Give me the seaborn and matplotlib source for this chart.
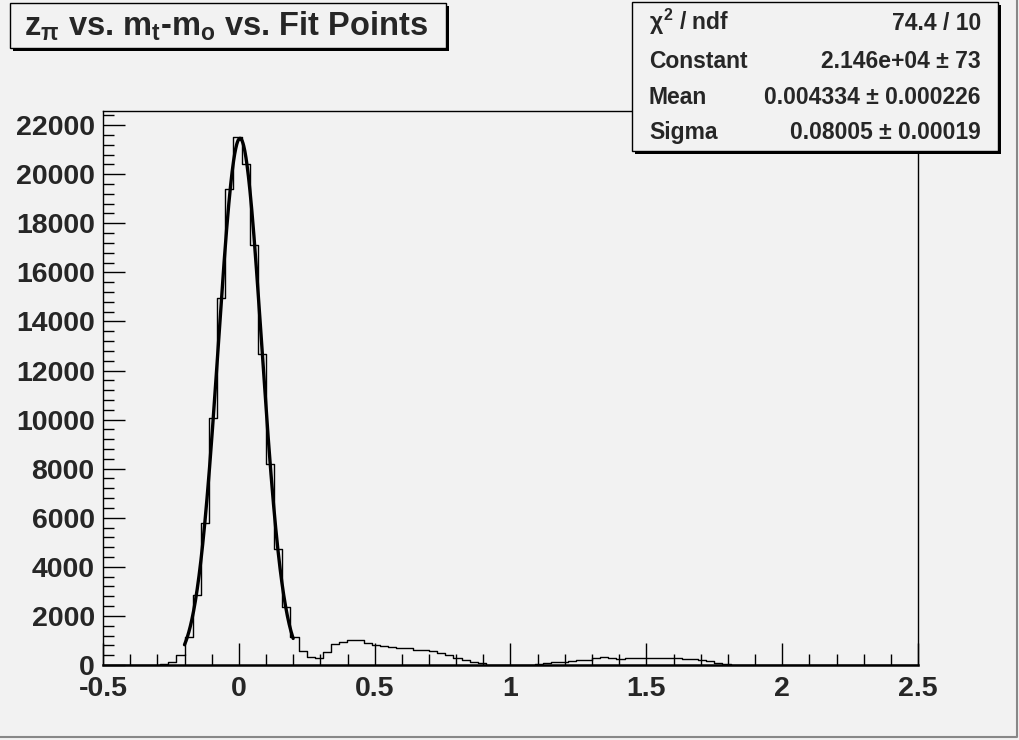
import numpy as np
import pandas as pd
import matplotlib
matplotlib.use("Agg")
import matplotlib.pyplot as plt
from matplotlib.patches import Rectangle
from matplotlib.ticker import MultipleLocator
import seaborn as sns

# histogram: 100 bins between -0.5 and 2.5
x_lo, x_hi, n_bins = -0.5, 2.5, 100
counts = ([0] * 6
          + [10, 30, 110, 400, 1130, 2840, 5770, 10050, 14940, 19380, 21500,
             20410, 17110, 12680, 8180, 4730, 2375, 1150, 570]
          + [315, 300, 520, 845, 940, 1010, 1000, 910, 830, 770, 750, 705,
             690, 625, 600, 585, 500, 410, 270, 190, 120, 70, 20, 5]
          + [0] * 3
          + [10, 40, 70, 120, 125, 175, 200, 205, 270, 310, 285, 260, 270,
             285, 290, 285, 290, 280, 270, 260, 230, 190, 150, 95, 40, 10]
          + [0] * 22)

# gaussian fit shown in the stats box
fit_const, fit_mean, fit_sigma = 21460, 0.004334, 0.08005
fit_lo, fit_hi = -0.2, 0.2

stat_names = [r"$\chi^{2}$ / ndf", "Constant", "Mean", "Sigma"]
stat_values = ["74.4 / 10", "2.146e+04 ± 73", "0.004334 ± 0.000226", "0.08005 ± 0.00019"]

title = r"z$_{\pi}$ vs. m$_{t}$-m$_{o}$ vs. Fit Points"

bg = "#f2f2f2"
sns.set_theme(style="ticks")
plt.rcParams["font.family"] = ["Liberation Sans", "DejaVu Sans"]
plt.rcParams["font.weight"] = "bold"
plt.rcParams["mathtext.fontset"] = "custom"
plt.rcParams["mathtext.rm"] = "Liberation Sans:bold"
plt.rcParams["mathtext.it"] = "Liberation Sans:bold"
plt.rcParams["mathtext.bf"] = "Liberation Sans:bold"
plt.rcParams["mathtext.sf"] = "Liberation Sans:bold"

W, H = 1020, 740
fig = plt.figure(figsize=(W / 100, H / 100), dpi=100, facecolor=bg)
ax = fig.add_axes([103 / W, 1 - 665 / H, (918 - 103) / W, (665 - 111) / H])
ax.set_facecolor(bg)

width = (x_hi - x_lo) / n_bins
centers = x_lo + width * (np.arange(n_bins) + 0.5)
df = pd.DataFrame({"x": centers, "n": counts})
sns.histplot(data=df, x="x", weights="n", bins=n_bins, binrange=(x_lo, x_hi),
             element="step", fill=False, color="black", linewidth=1.0, ax=ax)

xf = np.linspace(fit_lo, fit_hi, 300)
fit = pd.DataFrame({"x": xf, "y": fit_const * np.exp(-0.5 * ((xf - fit_mean) / fit_sigma) ** 2)})
sns.lineplot(data=fit, x="x", y="y", color="black", linewidth=2.4, ax=ax)

ax.set_xlim(x_lo, x_hi)
ax.set_ylim(0, 1.05 * max(counts))
ax.set_xlabel("")
ax.set_ylabel("")
ax.xaxis.set_minor_locator(MultipleLocator(0.1))
ax.yaxis.set_major_locator(MultipleLocator(2000))
ax.yaxis.set_minor_locator(MultipleLocator(400))
ax.set_xticks([-0.5, 0, 0.5, 1, 1.5, 2, 2.5])
ax.set_xticklabels(["-0.5", "0", "0.5", "1", "1.5", "2", "2.5"])
ax.tick_params(which="major", direction="in", length=16, width=1, labelsize=20.5, color="black")
ax.tick_params(which="minor", direction="in", length=8, width=1, color="black")
ax.tick_params(axis="x", pad=8)
ax.tick_params(axis="y", pad=6)
for s in ax.spines.values():
    s.set_visible(True)
    s.set_color("black")
    s.set_linewidth(1)
ax.spines["bottom"].set_linewidth(1.8)


def px(x, y):
    return x / W, 1 - y / H


def pave(x0, y0, x1, y1, sh):
    fig.add_artist(Rectangle(px(x0 + sh, y1 + sh), (x1 - x0) / W, (y1 - y0) / H,
                             transform=fig.transFigure, facecolor="black", edgecolor="none"))
    fig.add_artist(Rectangle(px(x0, y1), (x1 - x0) / W, (y1 - y0) / H,
                             transform=fig.transFigure, facecolor=bg, edgecolor="black", linewidth=1))


# title box
pave(10, 3, 446, 48, 3)
fig.text(*px(24, 36), title, fontsize=23.5, fontweight="bold", va="baseline", ha="left")

# stats box
pave(632, 2, 998, 151, 3)
for i, (name, val) in enumerate(zip(stat_names, stat_values)):
    yb = [30, 68, 104, 139][i]
    fig.text(*px(649, yb), name, fontsize=16.5, fontweight="bold", va="baseline", ha="left")
    fig.text(*px(981, yb), val, fontsize=16.5, fontweight="bold", va="baseline", ha="right")

# canvas border
fig.add_artist(plt.Line2D([0, 1017 / W, 1017 / W], [1 - 737 / H, 1 - 737 / H, 1],
                          transform=fig.transFigure, color="#888888", linewidth=1.5))

fig.savefig("out.png", dpi=100, facecolor=bg)
